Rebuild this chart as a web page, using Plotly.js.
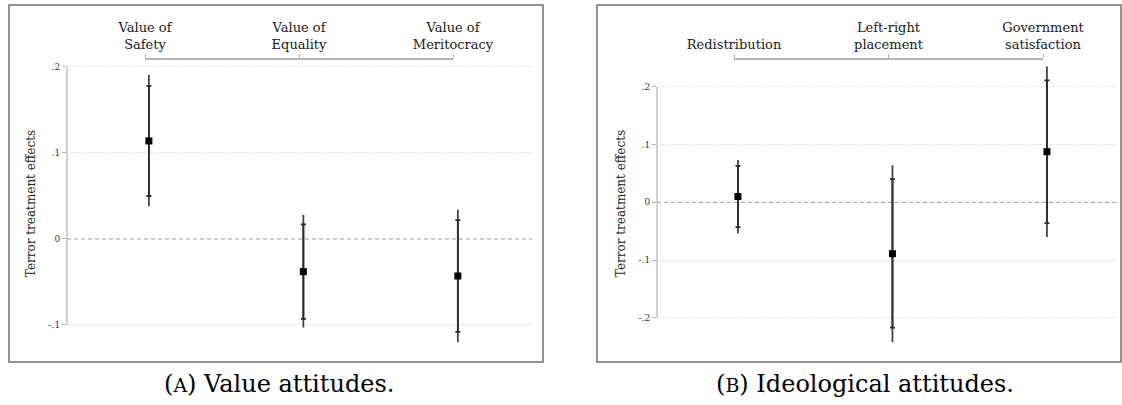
<!DOCTYPE html>
<html>
<head>
<meta charset="utf-8">
<script src="https://cdn.plot.ly/plotly-3.0.1.min.js"></script>
<style>html,body{margin:0;padding:0;background:#fff;}#chart{width:1122px;height:405px;}</style>
</head>
<body>
<div id="chart"></div>
<script>
// ---- Data ----
const valueCats = ['Value of<br>Safety', 'Value of<br>Equality', 'Value of<br>Meritocracy'];
const valueEst  = [0.114, -0.038, -0.043];
const valueLo90 = [0.050, -0.093, -0.108];
const valueHi90 = [0.178,  0.017,  0.022];
const valueLo95 = [0.038, -0.103, -0.120];
const valueHi95 = [0.191,  0.028,  0.034];

const ideoCats  = ['Redistribution', 'Left-right<br>placement', 'Government<br>satisfaction'];
const ideoEst   = [0.010, -0.089,  0.0875];
const ideoLo90  = [-0.043, -0.217, -0.036];
const ideoHi90  = [0.063,  0.040,  0.211];
const ideoLo95  = [-0.054, -0.242, -0.060];
const ideoHi95  = [0.073,  0.064,  0.235];

const valueTickVals = [-0.1, 0, 0.1, 0.2];
const valueTickText = ['-.1', '0', '.1', '.2'];
const ideoTickVals  = [-0.2, -0.1, 0, 0.1, 0.2];
const ideoTickText  = ['-.2', '-.1', '0', '.1', '.2'];

const yTitle = 'Terror treatment effects';
const captionA = '(<span style="font-size:19px">A</span>) Value attitudes.';
const captionB = '(<span style="font-size:19px">B</span>) Ideological attitudes.';

// ---- Layout helpers ----
const W = 1122, H = 405;
const px = x => x / W;
const py = y => 1 - y / H;
const FONT = 'DejaVu Serif, Liberation Serif, serif';

function pos(cats) { return cats.map((c, i) => i + 1); }
function diff(a, b) { return a.map((v, i) => v - b[i]); }

function panelTraces(cats, est, lo90, hi90, lo95, hi95, xa, ya, xl, yl, yg) {
  const x = pos(cats);
  return [
    { type: 'scatter', mode: 'markers', x: x, y: x.map(() => null), xaxis: xa, yaxis: yg,
      hoverinfo: 'skip', marker: { size: 0 } },
    { type: 'scatter', mode: 'markers', x: x, y: est, xaxis: xa, yaxis: ya,
      marker: { size: 1, color: 'rgba(0,0,0,0)' }, hoverinfo: 'skip',
      error_y: { type: 'data', symmetric: false, array: diff(hi95, est), arrayminus: diff(est, lo95),
                 width: 0, thickness: 1.8, color: '#444' } },
    { type: 'scatter', mode: 'markers', x: x, y: est, xaxis: xa, yaxis: ya,
      marker: { symbol: 'square', size: 7, color: '#000' },
      error_y: { type: 'data', symmetric: false, array: diff(hi90, est), arrayminus: diff(est, lo90),
                 width: 2.5, thickness: 1.8, color: '#2a2a2a' } },
    { type: 'scatter', mode: 'markers', x: x, y: x.map(() => null), xaxis: xl, yaxis: yl,
      hoverinfo: 'skip', marker: { size: 0 } }
  ];
}

const data = [].concat(
  panelTraces(valueCats, valueEst, valueLo90, valueHi90, valueLo95, valueHi95, 'x', 'y', 'x2', 'y2', 'y5'),
  panelTraces(ideoCats, ideoEst, ideoLo90, ideoHi90, ideoLo95, ideoHi95, 'x3', 'y3', 'x4', 'y4', 'y6')
);

function dataX(domL, domR) {
  return { domain: [px(domL), px(domR)], anchor: 'free', position: 0, visible: false, fixedrange: true };
}
function dataY(domB, domT, range, tv, tt, anchorX) {
  return {
    domain: [py(domB), py(domT)], range: range, anchor: anchorX,
    tickmode: 'array', tickvals: tv, ticktext: tt,
    ticks: 'outside', ticklen: 4, tickwidth: 1, tickcolor: '#b5b5b5',
    tickfont: { family: FONT, size: 9, color: '#333' },
    showline: false, zeroline: false, showgrid: false,
    title: { text: yTitle, font: { family: FONT, size: 12, color: '#222' }, standoff: 10 },
    automargin: false
  };
}
// gridlines at the non-zero ticks (zero gets its own dashed line)
function gridY(over, range, tv, anchorX) {
  return {
    overlaying: over, anchor: anchorX, range: range,
    tickmode: 'array', tickvals: tv.filter(v => v !== 0),
    showticklabels: false, ticks: '', showline: false, zeroline: false,
    showgrid: true, gridcolor: '#d0d0d0', griddash: '1px,2px', gridwidth: 1
  };
}
function labelX(l, r, cats, yPos) {
  return {
    domain: [px(l), px(r)], range: [1, cats.length], anchor: 'free', position: py(yPos), side: 'top',
    tickmode: 'array', tickvals: pos(cats), ticktext: cats,
    ticks: 'outside', ticklen: 4, tickwidth: 1, tickcolor: '#b5b5b5',
    showline: true, linecolor: '#b5b5b5', linewidth: 1.2,
    showgrid: false, zeroline: false,
    tickfont: { family: FONT, size: 13, color: '#1a1a1a' }, automargin: false
  };
}
function dummyY(domB, domT, anchorX) {
  return { domain: [py(domB), py(domT)], anchor: anchorX, visible: false, range: [0, 1] };
}

const valueRange = [-0.1233, 0.2058];
const ideoRange  = [-0.2469, 0.2427];

const layout = {
  width: W, height: H, margin: { l: 0, r: 0, t: 0, b: 0 },
  paper_bgcolor: '#fff', plot_bgcolor: 'rgba(0,0,0,0)',
  showlegend: false, font: { family: FONT },
  xaxis:  Object.assign(dataX(67, 532), { range: [0.47, 3.48] }),
  yaxis:  dataY(345, 62, valueRange, valueTickVals, valueTickText, 'x'),
  xaxis2: labelX(145, 453, valueCats, 58.3),
  yaxis2: dummyY(345, 62, 'x2'),
  xaxis3: Object.assign(dataX(657, 1116), { range: [0.476, 3.447] }),
  yaxis3: dataY(345, 62, ideoRange, ideoTickVals, ideoTickText, 'x3'),
  xaxis4: labelX(734, 1043, ideoCats, 58.3),
  yaxis4: dummyY(345, 62, 'x4'),
  yaxis5: gridY('y', valueRange, valueTickVals, 'x'),
  yaxis6: gridY('y3', ideoRange, ideoTickVals, 'x3'),
  shapes: [
    // panel frames
    { type: 'rect', xref: 'paper', yref: 'paper', x0: px(9), x1: px(543), y0: py(362), y1: py(5),
      line: { color: '#707070', width: 1.5 }, layer: 'below' },
    { type: 'rect', xref: 'paper', yref: 'paper', x0: px(597), x1: px(1121), y0: py(362), y1: py(5),
      line: { color: '#707070', width: 1.5 }, layer: 'below' },
    // y axis lines spanning the tick range
    { type: 'line', xref: 'x domain', yref: 'y', x0: 0, x1: 0,
      y0: Math.min(...valueTickVals), y1: Math.max(...valueTickVals), line: { color: '#c4c4c4', width: 1.6 } },
    { type: 'line', xref: 'x3 domain', yref: 'y3', x0: 0, x1: 0,
      y0: Math.min(...ideoTickVals), y1: Math.max(...ideoTickVals), line: { color: '#c4c4c4', width: 1.6 } },
    // dashed zero reference lines
    { type: 'line', xref: 'x domain', yref: 'y', x0: 0, x1: 1, y0: 0, y1: 0, layer: 'below',
      line: { color: '#9a9a9a', width: 1, dash: '4px,3px' } },
    { type: 'line', xref: 'x3 domain', yref: 'y3', x0: 0, x1: 1, y0: 0, y1: 0, layer: 'below',
      line: { color: '#9a9a9a', width: 1, dash: '4px,3px' } }
  ],
  annotations: [
    { text: captionA, xref: 'paper', yref: 'paper', x: px(279), y: py(384), showarrow: false,
      xanchor: 'center', yanchor: 'middle', font: { family: FONT, size: 24, color: '#000' } },
    { text: captionB, xref: 'paper', yref: 'paper', x: px(865), y: py(384), showarrow: false,
      xanchor: 'center', yanchor: 'middle', font: { family: FONT, size: 24, color: '#000' } }
  ]
};

Plotly.newPlot('chart', data, layout, { staticPlot: true, displayModeBar: false });
</script>
</body>
</html>
